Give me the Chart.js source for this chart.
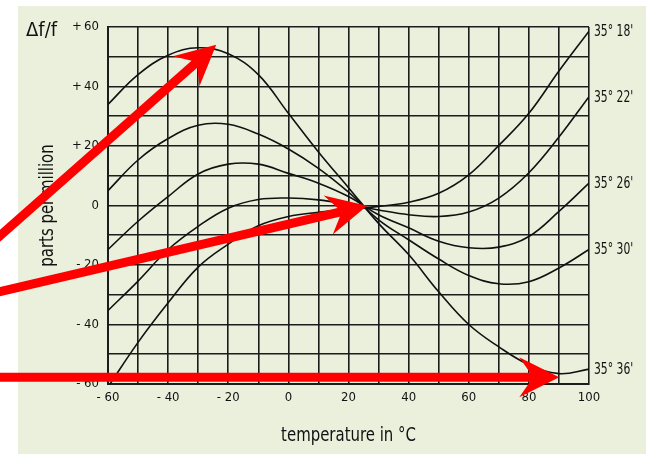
<!DOCTYPE html>
<html>
<head>
<meta charset="utf-8">
<script src="https://cdn.jsdelivr.net/npm/chart.js@4.4.1/dist/chart.umd.min.js"></script>
<style>
  body { margin: 0; background: #fff; }
</style>
</head>
<body>
<canvas id="chart" width="648" height="454"></canvas>
<script>
// temperature in degC, one column per grid line
const temps = [-60, -50, -40, -30, -20, -10, 0, 10, 20, 30, 40, 50, 60, 70, 80, 90, 100];

// frequency deviation in ppm
const cut18 = [-61, -46, -32.7, -20.7, -13, -6.8, -3.7, -2.3, -1.3, -0.3, 1.1, 4.1, 10.3, 20.2, 31, 45.2, 58.6];
const cut22 = [-35.3, -25.4, -14.8, -7, -0.9, 2, 2.5, 1.9, 0.3, -1.5, -3.1, -3.7, -2.2, 2.5, 11, 23, 36.6];
const cut26 = [-14.8, -5.3, 3, 10.6, 13.9, 13.9, 10.8, 7.5, 3, -3.1, -7.5, -12, -14.2, -14, -10.4, -2, 7.5];
const cut30 = [5, 15.3, 22.5, 27, 27.3, 24, 19, 12.5, 4.5, -4.8, -11.5, -18, -23.5, -26.3, -25.6, -21, -14.8];
const cut36 = [34, 44, 50.5, 53, 51, 44, 31, 18, 6, -6, -16.5, -29, -40, -47.5, -53.5, -56.5, -55];

const cutLabels = ["35° 18'", "35° 22'", "35° 26'", "35° 30'", "35° 36'"];

const yTicks = [60, 40, 20, 0, -20, -40, -60];
const xTicks = [-60, -40, -20, 0, 20, 40, 60, 80, 100];

// red arrows laid over the chart, [temp, ppm]
const arrows = [
  { from: [-99, -12.9], to: [-24, 54] },
  { from: [-99, -29.7], to: [26.2, -0.1] },
  { from: [-99, -57.7], to: [90.1, -57.7] }
];

const ink = '#111';
const face = "'DejaVu Sans Condensed', 'DejaVu Sans', sans-serif";

const series = [cut18, cut22, cut26, cut30, cut36];

function fmtY(v) {
  if (v > 0) return '+\u2009' + v;
  if (v < 0) return '- ' + (-v);
  return '0';
}
function fmtX(v) {
  return v < 0 ? '- ' + (-v) : String(v);
}

// squeezed text, the original uses a condensed face
function narrowText(ctx, text, x, y, squeeze, angle) {
  ctx.save();
  ctx.translate(x, y);
  if (angle) ctx.rotate(angle);
  ctx.scale(squeeze, 1);
  ctx.fillText(text, 0, 0);
  ctx.restore();
}

const background = {
  id: 'background',
  beforeDraw(chart) {
    const ctx = chart.ctx;
    ctx.save();
    ctx.fillStyle = '#fff';
    ctx.fillRect(0, 0, chart.width, chart.height);
    ctx.fillStyle = '#eaf0dc';
    ctx.fillRect(18, 6, 628, chart.height - 6);
    ctx.restore();
  }
};

const overlay = {
  id: 'overlay',
  afterDraw(chart) {
    const ctx = chart.ctx;
    const xs = chart.scales.x, ys = chart.scales.y;
    const area = chart.chartArea;
    ctx.save();
    ctx.fillStyle = ink;
    ctx.textBaseline = 'middle';

    // axis titles
    ctx.textAlign = 'center';
    ctx.font = '20px ' + face;
    narrowText(ctx, 'temperature in °C', (area.left + area.right) / 2, 436, 0.83);
    narrowText(ctx, 'parts per million', 48, (area.top + area.bottom) / 2, 0.83, -Math.PI / 2);

    ctx.textAlign = 'left';
    narrowText(ctx, '\u0394f/f', 26, 31, 1);

    // curve names at the right end
    ctx.font = '15px ' + face;
    series.forEach((vals, i) => {
      const y = ys.getPixelForValue(vals[vals.length - 1]);
      narrowText(ctx, cutLabels[i], area.right + 5, y + 1, 0.8);
    });

    // arrows
    ctx.fillStyle = '#ff0000';
    ctx.strokeStyle = '#ff0000';
    arrows.forEach(a => {
      const x0 = xs.getPixelForValue(a.from[0]), y0 = ys.getPixelForValue(a.from[1]);
      const x1 = xs.getPixelForValue(a.to[0]), y1 = ys.getPixelForValue(a.to[1]);
      const len = Math.hypot(x1 - x0, y1 - y0);
      const ux = (x1 - x0) / len, uy = (y1 - y0) / len;
      const nx = -uy, ny = ux;
      const L = 40, W = 20, notch = 26;
      ctx.lineWidth = 9;
      ctx.beginPath();
      ctx.moveTo(x0, y0);
      ctx.lineTo(x1 - ux * notch, y1 - uy * notch);
      ctx.stroke();
      ctx.beginPath();
      ctx.moveTo(x1, y1);
      ctx.lineTo(x1 - ux * L + nx * W, y1 - uy * L + ny * W);
      ctx.lineTo(x1 - ux * notch, y1 - uy * notch);
      ctx.lineTo(x1 - ux * L - nx * W, y1 - uy * L - ny * W);
      ctx.closePath();
      ctx.fill();
    });
    ctx.restore();
  }
};

new Chart(document.getElementById('chart'), {
  type: 'line',
  data: {
    datasets: series.map((vals, i) => ({
      label: cutLabels[i],
      data: temps.map((t, j) => ({ x: t, y: vals[j] })),
      borderColor: '#111',
      borderWidth: 1.6,
      pointRadius: 0,
      tension: 0.4,
      fill: false
    }))
  },
  options: {
    responsive: false,
    animation: false,
    layout: { padding: { top: 27, right: 59, left: 0, bottom: 0 } },
    plugins: { legend: { display: false }, tooltip: { enabled: false } },
    scales: {
      x: {
        type: 'linear',
        min: -60,
        max: 100,
        afterFit: s => { s.height = 70; },
        ticks: {
          stepSize: 10,
          autoSkip: false,
          maxRotation: 0,
          padding: 6,
          color: ink,
          font: { family: face, size: 13 },
          callback: v => xTicks.includes(v) ? fmtX(v) : ''
        },
        grid: { color: '#1c1c1c', lineWidth: 1.6, drawTicks: false },
        border: { color: '#1c1c1c', width: 2 }
      },
      y: {
        type: 'linear',
        min: -60,
        max: 60,
        afterFit: s => { s.width = 108; },
        ticks: {
          stepSize: 10,
          autoSkip: false,
          padding: 9,
          color: ink,
          font: { family: face, size: 13 },
          callback: v => yTicks.includes(v) ? fmtY(v) : ''
        },
        grid: { color: '#1c1c1c', lineWidth: 1.6, drawTicks: false },
        border: { color: '#1c1c1c', width: 2 }
      }
    }
  },
  plugins: [background, overlay]
});
</script>
</body>
</html>
